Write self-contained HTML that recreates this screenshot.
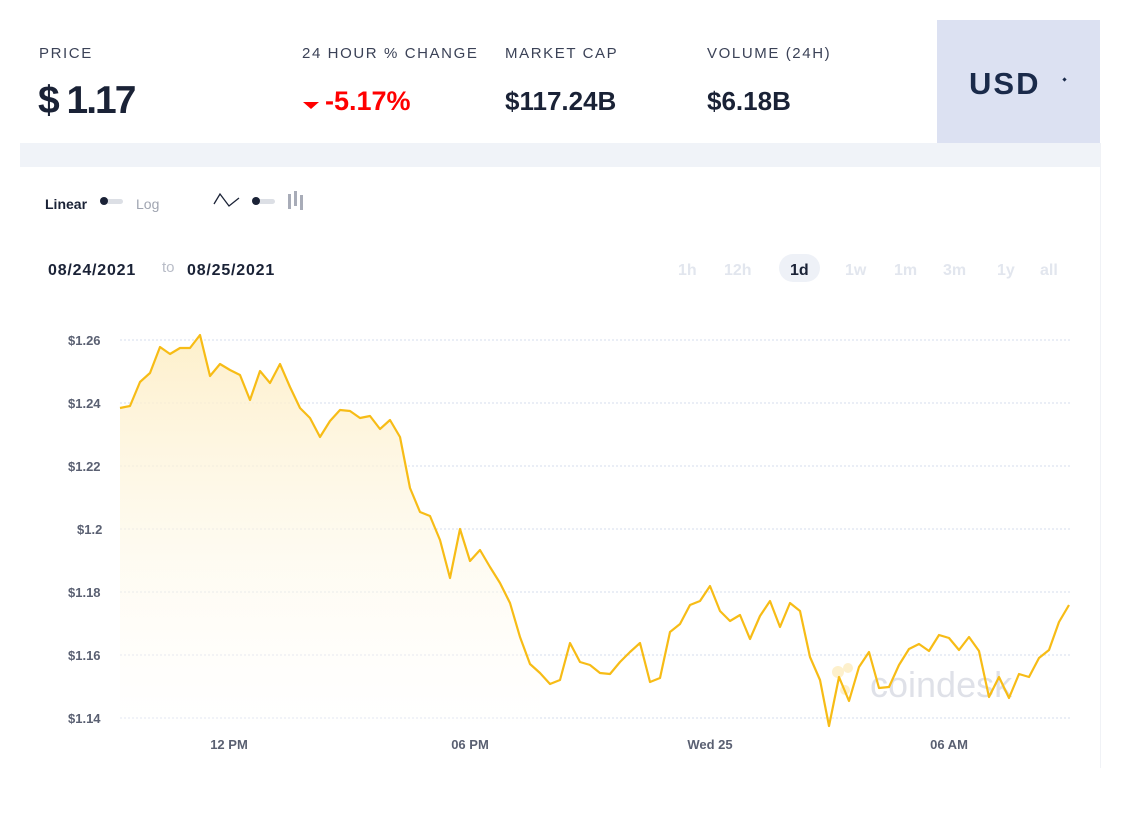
<!DOCTYPE html>
<html><head><meta charset="utf-8"><style>
body{margin:0;width:1121px;height:828px;background:#fff;font-family:"Liberation Sans",sans-serif;position:relative;overflow:hidden;color:#1a2236}
.a{position:absolute;white-space:nowrap}
.lbl{font-size:15px;letter-spacing:1.6px;color:#3b4257;top:45px}
.val{font-size:26px;font-weight:bold;top:86px;color:#1a2236}
.tf{font-size:16px;font-weight:bold;color:#e2e6ee;top:262px}
</style></head><body>
<div class="a" style="left:1100px;top:143px;width:1px;height:625px;background:#f0f2f6"></div>
<div class="a lbl" style="left:39px">PRICE</div>
<div class="a" style="left:38px;top:79px;font-size:39px;font-weight:bold;letter-spacing:-2px">$ 1.17</div>
<div class="a lbl" style="left:302px">24 HOUR % CHANGE</div>
<div class="a" style="left:303px;top:102px;width:0;height:0;border-left:8px solid transparent;border-right:8px solid transparent;border-top:7px solid #f00"></div>
<div class="a val" style="left:325px;color:#f00;top:86px;font-size:27px">-5.17%</div>
<div class="a lbl" style="left:505px">MARKET CAP</div>
<div class="a val" style="left:505px">$117.24B</div>
<div class="a lbl" style="left:707px">VOLUME (24H)</div>
<div class="a val" style="left:707px">$6.18B</div>
<div class="a" style="left:937px;top:20px;width:163px;height:123px;background:#dce1f2"></div>
<div class="a" style="left:969px;top:66px;font-size:31px;font-weight:bold;letter-spacing:2px;color:#1a2a4a">USD</div>
<div class="a" style="left:1063px;top:78px;width:3px;height:3px;background:#1a2a4a;transform:rotate(45deg)"></div>
<div class="a" style="left:20px;top:143px;width:1080px;height:24px;background:#f0f3f8"></div>
<div class="a" style="left:45px;top:196px;font-size:14px;font-weight:bold">Linear</div>
<div class="a" style="left:101px;top:199px;width:22px;height:5px;border-radius:3px;background:#dcdfe5"></div>
<div class="a" style="left:100px;top:197px;width:8px;height:8px;border-radius:4px;background:#1a2236"></div>
<div class="a" style="left:136px;top:196px;font-size:14px;color:#a0a5b1">Log</div>
<svg class="a" style="left:213px;top:192px" width="28" height="16"><polyline points="1,12 7,2 16,14 26,6" fill="none" stroke="#1a2236" stroke-width="1.3"/></svg>
<div class="a" style="left:253px;top:199px;width:22px;height:5px;border-radius:3px;background:#dcdfe5"></div>
<div class="a" style="left:252px;top:197px;width:8px;height:8px;border-radius:4px;background:#1a2236"></div>
<div class="a" style="left:288px;top:194px;width:3px;height:15px;background:#a8acb8"></div>
<div class="a" style="left:294px;top:191px;width:3px;height:15px;background:#a8acb8"></div>
<div class="a" style="left:300px;top:195px;width:3px;height:15px;background:#a8acb8"></div>
<div class="a" style="left:48px;top:262px;font-size:16px;font-weight:bold;letter-spacing:0.8px">08/24/2021</div>
<div class="a" style="left:162px;top:259px;font-size:15px;color:#b8bcc7">to</div>
<div class="a" style="left:187px;top:262px;font-size:16px;font-weight:bold;letter-spacing:0.8px">08/25/2021</div>
<div class="a tf" style="left:678px">1h</div>
<div class="a tf" style="left:724px">12h</div>
<div class="a" style="left:779px;top:254px;width:41px;height:28px;border-radius:14px;background:#eef1f7"></div>
<div class="a tf" style="left:790px;color:#1a2236">1d</div>
<div class="a tf" style="left:845px">1w</div>
<div class="a tf" style="left:894px">1m</div>
<div class="a tf" style="left:943px">3m</div>
<div class="a tf" style="left:997px">1y</div>
<div class="a tf" style="left:1040px">all</div>
<svg class="a" style="left:0;top:0" width="1121" height="828">
<defs><linearGradient id="g" x1="0" y1="0" x2="0" y2="1"><stop offset="0" stop-color="#fdeec6" stop-opacity="0.9"/><stop offset="1" stop-color="#fff" stop-opacity="0.3"/></linearGradient></defs>
<g stroke="#d6dcec" stroke-dasharray="2,2" stroke-width="1">
<line x1="120" x2="1070" y1="340" y2="340"/><line x1="120" x2="1070" y1="403" y2="403"/><line x1="120" x2="1070" y1="466" y2="466"/><line x1="120" x2="1070" y1="529" y2="529"/><line x1="120" x2="1070" y1="592" y2="592"/><line x1="120" x2="1070" y1="655" y2="655"/><line x1="120" x2="1070" y1="718" y2="718"/></g>
<g font-size="13" font-weight="bold" fill="#5a6072" font-family="Liberation Sans,sans-serif">
<text x="68" y="345">$1.26</text><text x="68" y="408">$1.24</text><text x="68" y="471">$1.22</text><text x="77" y="534">$1.2</text><text x="68" y="597">$1.18</text><text x="68" y="660">$1.16</text><text x="68" y="723">$1.14</text>
<text x="229" y="749" text-anchor="middle">12 PM</text><text x="470" y="749" text-anchor="middle">06 PM</text><text x="710" y="749" text-anchor="middle">Wed 25</text><text x="949" y="749" text-anchor="middle">06 AM</text></g>
<text x="870" y="697" font-size="36" fill="#dfe1e8" font-family="Liberation Sans,sans-serif">coindesk</text>
<circle cx="838" cy="672" r="6" fill="#fdf0cc"/><circle cx="848" cy="668" r="5" fill="#fdf0cc"/><circle cx="845" cy="690" r="5" fill="#fdf0cc"/>
<polygon fill="url(#g)" points="120,730 120,408 130,406 140,382 150,373 160,347 170,354 180,348 190,348 200,335 210,376 220,364 230,370 240,375 250,400 260,371 270,383 280,364 290,387 300,408 310,418 320,437 330,421 340,410 350,411 360,418 370,416 380,429 390,420 400,437 410,488 420,512 430,516 440,540 450,578 460,529 470,561 480,550 490,567 500,583 510,603 520,637 530,664 540,673 540,730"/>
<polyline fill="none" stroke="#f7bc16" stroke-width="2.2" stroke-linejoin="round" points="120,408 130,406 140,382 150,373 160,347 170,354 180,348 190,348 200,335 210,376 220,364 230,370 240,375 250,400 260,371 270,383 280,364 290,387 300,408 310,418 320,437 330,421 340,410 350,411 360,418 370,416 380,429 390,420 400,437 410,488 420,512 430,516 440,540 450,578 460,529 470,561 480,550 490,567 500,583 510,603 520,637 530,664 540,673 550,684 560,680 570,643 580,662 590,665 600,673 610,674 620,662 630,652 640,643 650,682 660,678 670,632 680,624 690,605 700,601 710,586 720,611 730,621 740,615 750,639 760,616 770,601 780,627 790,603 800,611 810,657 820,680 829,726 839,677 849,701 859,667 869,652 879,688 889,687 899,665 909,649 919,644 929,651 939,635 949,638 959,650 969,637 979,651 989,697 999,677 1009,698 1019,674 1029,677 1039,658 1049,650 1059,622 1069,605"/>
</svg>
</body></html>
